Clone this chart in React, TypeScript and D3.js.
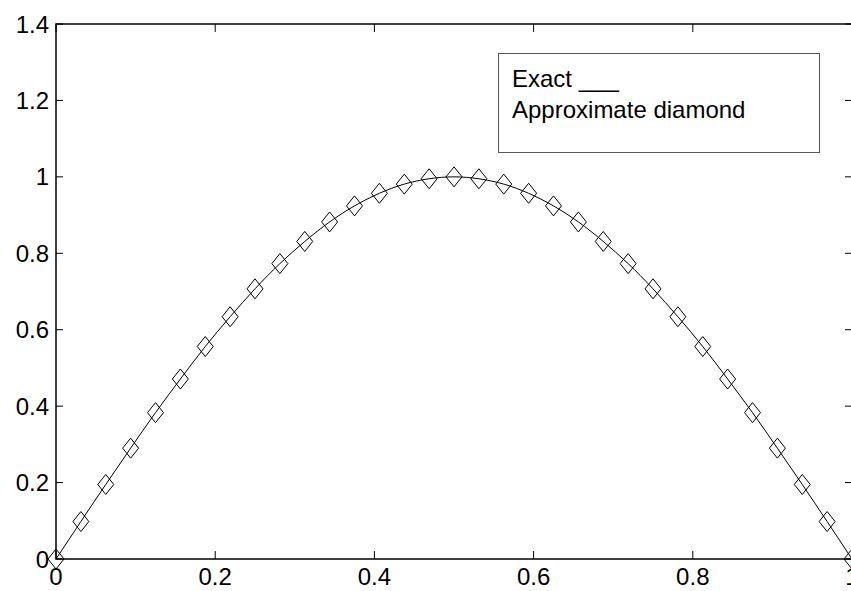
import React, { useEffect, useRef } from 'react';
import * as d3 from 'd3';

// sample points x = i/32 and the values
const xs = [
  0, 0.03125, 0.0625, 0.09375, 0.125, 0.15625, 0.1875, 0.21875, 0.25,
  0.28125, 0.3125, 0.34375, 0.375, 0.40625, 0.4375, 0.46875, 0.5,
  0.53125, 0.5625, 0.59375, 0.625, 0.65625, 0.6875, 0.71875, 0.75,
  0.78125, 0.8125, 0.84375, 0.875, 0.90625, 0.9375, 0.96875, 1,
];
const exact = [
  0, 0.098, 0.195, 0.29, 0.383, 0.471, 0.556, 0.634, 0.707,
  0.773, 0.831, 0.882, 0.924, 0.957, 0.981, 0.995, 1,
  0.995, 0.981, 0.957, 0.924, 0.882, 0.831, 0.773, 0.707,
  0.634, 0.556, 0.471, 0.383, 0.29, 0.195, 0.098, 0,
];
const approx = [
  0, 0.098, 0.195, 0.29, 0.383, 0.471, 0.556, 0.634, 0.707,
  0.773, 0.831, 0.882, 0.924, 0.957, 0.981, 0.995, 1,
  0.995, 0.981, 0.957, 0.924, 0.882, 0.831, 0.773, 0.707,
  0.634, 0.556, 0.471, 0.383, 0.29, 0.195, 0.098, 0,
];
const xTicks = [0, 0.2, 0.4, 0.6, 0.8, 1];
const yTicks = [0, 0.2, 0.4, 0.6, 0.8, 1, 1.2, 1.4];
const legendLines = ['Exact ___', 'Approximate diamond'];

const W = 851;
const H = 591;
const FONT = '"Liberation Sans", Arial, sans-serif';

export default function App() {
  const svgRef = useRef<SVGSVGElement>(null);

  useEffect(() => {
    if (!svgRef.current) return;
    const svg = d3.select(svgRef.current);
    svg.selectAll('*').remove();

    const left = 56, right = 852, top = 24, bottom = 559;
    const x = d3.scaleLinear().domain([0, 1]).range([left, right]);
    const y = d3.scaleLinear().domain([0, 1.4]).range([bottom, top]);

    const g = svg.append('g');

    // ticks on all four sides, pointing inwards
    xTicks.forEach((t) => {
      g.append('line').attr('x1', x(t)).attr('x2', x(t))
        .attr('y1', bottom).attr('y2', bottom - 8)
        .attr('stroke', '#000').attr('stroke-width', 1);
      g.append('line').attr('x1', x(t)).attr('x2', x(t))
        .attr('y1', top).attr('y2', top + 8)
        .attr('stroke', '#000').attr('stroke-width', 1);
      g.append('text')
        .attr('x', x(t)).attr('y', 585)
        .attr('text-anchor', 'middle')
        .style('font-family', FONT).style('font-size', '24px')
        .text(String(t));
    });
    yTicks.forEach((t) => {
      g.append('line').attr('x1', left).attr('x2', left + 7)
        .attr('y1', y(t)).attr('y2', y(t))
        .attr('stroke', '#000').attr('stroke-width', 1);
      g.append('line').attr('x1', right).attr('x2', right - 7)
        .attr('y1', y(t)).attr('y2', y(t))
        .attr('stroke', '#000').attr('stroke-width', 1);
      g.append('text')
        .attr('x', 49).attr('y', y(t)).attr('dy', '0.36em')
        .attr('text-anchor', 'end')
        .style('font-family', FONT).style('font-size', '24px')
        .text(String(t));
    });

    // axes box
    g.append('rect')
      .attr('x', left).attr('y', top)
      .attr('width', right - left).attr('height', bottom - top)
      .attr('fill', 'none').attr('stroke', '#000').attr('stroke-width', 1.5);

    // exact curve
    const line = d3.line<number>()
      .x((_, i) => x(xs[i]))
      .y((d) => y(d))
      .curve(d3.curveNatural);
    g.append('path')
      .datum(exact)
      .attr('d', line)
      .attr('fill', 'none')
      .attr('stroke', '#000')
      .attr('stroke-width', 1);

    // approximate diamonds
    g.selectAll('path.dia')
      .data(approx)
      .enter()
      .append('path')
      .attr('class', 'dia')
      .attr('transform', (d, i) => `translate(${x(xs[i])},${y(d)})`)
      .attr('d', 'M0,-10L8,0L0,10L-8,0Z')
      .attr('fill', 'none')
      .attr('stroke', '#000')
      .attr('stroke-width', 1);

    // legend
    g.append('rect')
      .attr('x', 498.5).attr('y', 53.5)
      .attr('width', 321).attr('height', 99)
      .attr('fill', '#fff').attr('stroke', '#555').attr('stroke-width', 1);
    legendLines.forEach((s, i) => {
      g.append('text')
        .attr('x', 512).attr('y', 87 + i * 31)
        .style('font-family', FONT).style('font-size', '24px')
        .text(s);
    });
  }, []);

  return (
    <svg
      ref={svgRef}
      width={W}
      height={H}
      style={{ position: 'absolute', left: 0, top: 0, background: '#fff' }}
    />
  );
}
